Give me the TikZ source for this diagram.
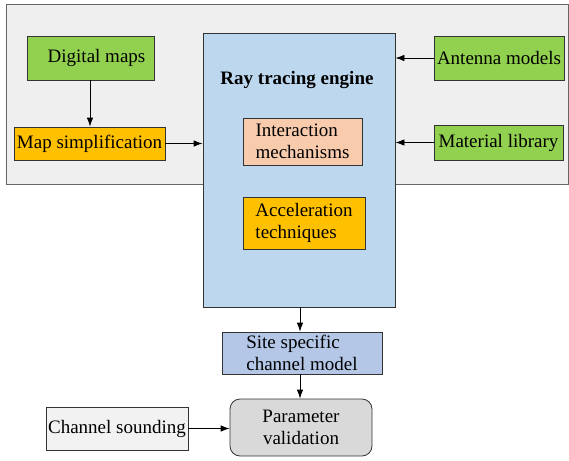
\documentclass[tikz,border=0pt]{standalone}
\usepackage{fontspec}
\setmainfont{Liberation Serif}
\usetikzlibrary{arrows.meta}
\definecolor{bggray}{HTML}{EFEFEF}
\definecolor{gboxc}{HTML}{92D050}
\definecolor{oboxc}{HTML}{FFC000}
\definecolor{engc}{HTML}{BDD7EE}
\definecolor{peachc}{HTML}{F8CBAD}
\definecolor{sitec}{HTML}{B4C7E7}
\definecolor{paramc}{HTML}{D9D9D9}
\definecolor{soundc}{HTML}{F2F2F2}
\begin{document}
\begin{tikzpicture}[x=1pt,y=-1pt,
  every node/.style={font=\fontsize{19}{22}\selectfont, inner sep=0pt},
  boxn/.style={draw=black!80, line width=0.8pt},
  arr/.style={draw=black, line width=0.8pt, -{Latex[length=9pt,width=6.5pt]}}]
\useasboundingbox (0,0) rectangle (569,460);
% outer background
\draw[fill=bggray, draw=black!60, line width=0.8pt] (6,4) rectangle (568,184);
% ray tracing engine
\node[boxn, fill=engc, minimum width=192pt, minimum height=274pt] (eng) at (299,170) {};
\node[font=\fontsize{19}{22}\selectfont\bfseries] (engt) at (297,80) {Ray tracing engine};
\node[boxn, fill=peachc, minimum width=119pt, minimum height=47pt, align=left] (inter) at (302.5,141.5) {Interaction\\mechanisms};
\node[boxn, fill=oboxc, minimum width=122pt, minimum height=52pt, align=left] (accel) at (304,223) {Acceleration\\techniques};
% left inputs
\node[boxn, fill=gboxc, minimum width=127pt, minimum height=44pt] (dm) at (90.5,58) {\hspace{12pt}Digital maps};
\node[boxn, fill=oboxc, minimum width=151pt, minimum height=33pt] (ms) at (89.5,143.5) {Map simplification};
% right inputs
\node[boxn, fill=gboxc, minimum width=130pt, minimum height=44pt] (ant) at (499,58) {Antenna models};
\node[boxn, fill=gboxc, minimum width=129pt, minimum height=35pt] (mat) at (498.5,142.5) {Material library};
% lower chain
\node[boxn, fill=sitec, minimum width=160pt, minimum height=42pt, align=left] (site) at (302,353) {Site specific\\channel model};
\node[boxn, fill=paramc, rounded corners=10pt, minimum width=142pt, minimum height=57pt, align=center] (param) at (301,427.5) {Parameter\\validation};
\node[boxn, fill=soundc, minimum width=142pt, minimum height=43pt] (sound) at (117,428.5) {Channel sounding};
% arrows
\draw[arr] (dm.south -| 90,0) -- (ms.north -| 90,0);
\draw[arr] (ms.east) -- (eng.west |- ms.east);
\draw[arr] (ant.west) -- (eng.east |- ant.west);
\draw[arr] (mat.west) -- (eng.east |- mat.west);
\draw[arr] (eng.south -| 300,0) -- (site.north -| 300,0);
\draw[arr] (site.south -| 300,0) -- (param.north -| 300,0);
\draw[arr] (sound.east) -- (param.west |- sound.east);
\end{tikzpicture}
\end{document}
